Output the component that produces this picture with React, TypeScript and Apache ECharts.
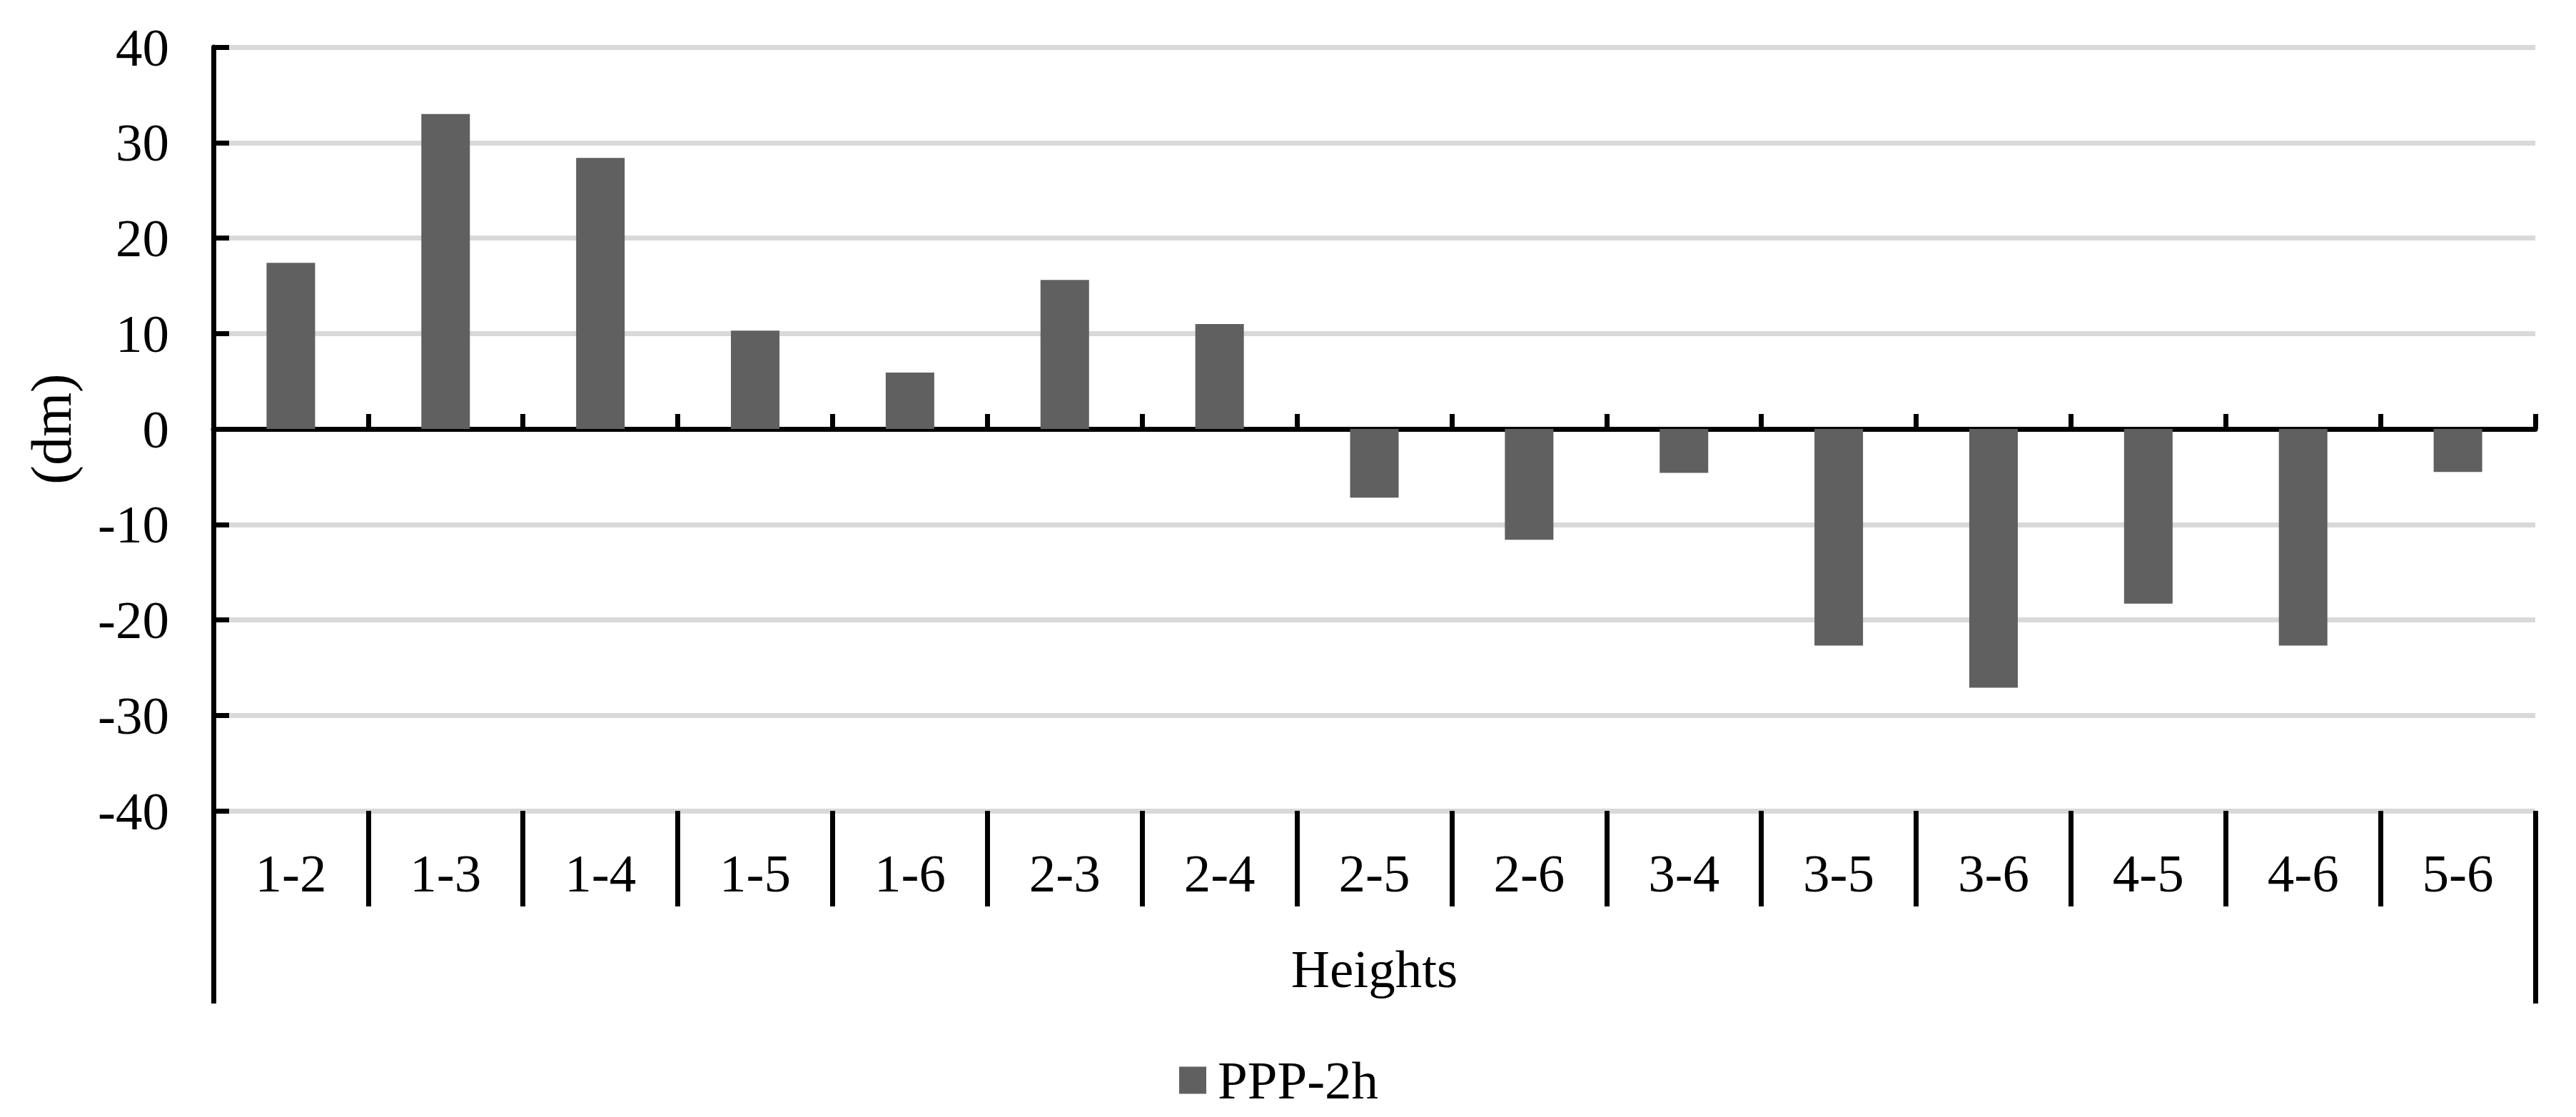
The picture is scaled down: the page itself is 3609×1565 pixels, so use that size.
import React, { useEffect, useRef } from "react";
import * as echarts from "echarts";

const categories = ["1-2", "1-3", "1-4", "1-5", "1-6", "2-3", "2-4", "2-5", "2-6", "3-4", "3-5", "3-6", "4-5", "4-6", "5-6"];
const groupLabel = ["Heights"];
const seriesName = "PPP-2h";
const values = [17.4, 33.0, 28.4, 10.3, 5.9, 15.6, 11.0, -7.2, -11.6, -4.6, -22.7, -27.1, -18.3, -22.7, -4.5];
const yMin = -40;
const yMax = 40;
const yStep = 10;
const yTitle = "(dm)";

const FONT = "'Liberation Serif', 'Times New Roman', serif";

export default function App() {
  const ref = useRef<HTMLDivElement>(null);
  useEffect(() => {
    if (!ref.current) return;
    const chart = echarts.init(ref.current, undefined, { renderer: "svg" });
    chart.setOption({
      animation: false,
      backgroundColor: "#ffffff",
      textStyle: { fontFamily: FONT },
      grid: { left: 299, right: 57, top: 66, bottom: 429, containLabel: false },
      legend: {
        data: [seriesName],
        left: 1652,
        top: 1476,
        padding: 0,
        icon: "rect",
        itemWidth: 38,
        itemHeight: 38,
        textStyle: { fontFamily: FONT, fontSize: 75, color: "#000", padding: [0, 0, 0, 11] },
      },
      xAxis: [
        {
          type: "category",
          data: categories,
          position: "bottom",
          axisLine: { show: true, onZero: true, lineStyle: { color: "#000", width: 7 } },
          axisTick: { show: true, inside: true, length: 21, lineStyle: { color: "#000", width: 7 } },
          axisLabel: { show: false },
          splitLine: { show: false },
        },
        {
          type: "category",
          data: categories,
          position: "bottom",
          axisLine: { show: false, onZero: false },
          axisTick: { show: true, length: 134, lineStyle: { color: "#000", width: 7 } },
          axisLabel: { show: true, fontFamily: FONT, fontSize: 75, color: "#000", margin: 50, interval: 0 },
          splitLine: { show: false },
        },
        {
          type: "category",
          data: groupLabel,
          position: "bottom",
          axisLine: { show: false, onZero: false },
          axisTick: { show: true, length: 270, lineStyle: { color: "#000", width: 7 } },
          axisLabel: { show: true, fontFamily: FONT, fontSize: 75, color: "#000", margin: 184 },
          splitLine: { show: false },
        },
      ],
      yAxis: {
        type: "value",
        min: yMin,
        max: yMax,
        interval: yStep,
        name: yTitle,
        nameLocation: "middle",
        nameRotate: 90,
        nameGap: 187,
        nameTextStyle: { fontFamily: FONT, fontSize: 80, color: "#000" },
        axisLine: { show: true, onZero: false, lineStyle: { color: "#000", width: 7 } },
        axisTick: { show: true, inside: true, length: 22, lineStyle: { color: "#000", width: 7 } },
        axisLabel: { fontFamily: FONT, fontSize: 75, color: "#000", margin: 62 },
        splitLine: { show: true, lineStyle: { color: "#d9d9d9", width: 7 } },
      },
      series: [
        {
          name: seriesName,
          type: "bar",
          xAxisIndex: 0,
          data: values,
          barWidth: 68,
          itemStyle: { color: "#606060" },
        },
      ],
    });
    return () => chart.dispose();
  }, []);
  return <div ref={ref} style={{ position: "absolute", left: 0, top: 0, width: 3609, height: 1565 }} />;
}
